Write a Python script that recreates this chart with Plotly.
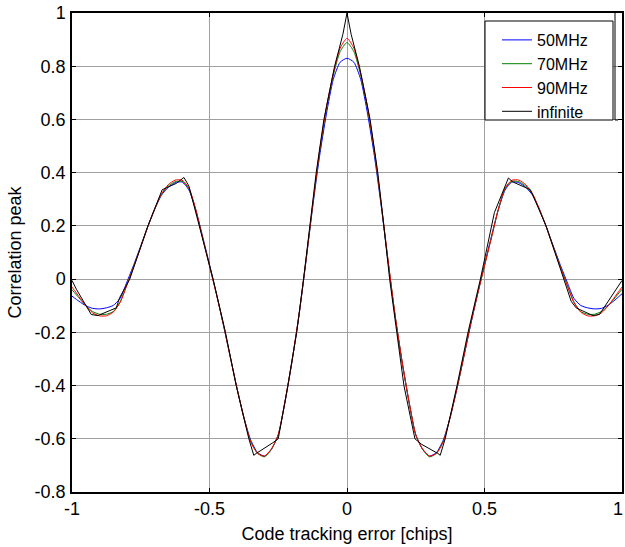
import plotly.graph_objects as go

# ---------------- data ----------------
x_band = [-1.0, -0.975, -0.95, -0.925, -0.9, -0.875, -0.85, -0.825, -0.8, -0.775,
          -0.75, -0.725, -0.7, -0.675, -0.65, -0.625, -0.6, -0.575, -0.55, -0.525,
          -0.5, -0.475, -0.45, -0.425, -0.4, -0.375, -0.35, -0.325, -0.3, -0.275,
          -0.25, -0.225, -0.2, -0.175, -0.15, -0.125, -0.1, -0.075, -0.05, -0.025,
          0.0, 0.025, 0.05, 0.075, 0.1, 0.125, 0.15, 0.175, 0.2, 0.225,
          0.25, 0.275, 0.3, 0.325, 0.35, 0.375, 0.4, 0.425, 0.45, 0.475,
          0.5, 0.525, 0.55, 0.575, 0.6, 0.625, 0.65, 0.675, 0.7, 0.725,
          0.75, 0.775, 0.8, 0.825, 0.85, 0.875, 0.9, 0.925, 0.95, 0.975, 1.0]

y_50mhz = [-0.064, -0.083, -0.100, -0.110, -0.112, -0.108, -0.099, -0.072, -0.010, 0.055,
           0.125, 0.195, 0.260, 0.315, 0.345, 0.362, 0.365, 0.335, 0.260, 0.160,
           0.055, -0.055, -0.170, -0.290, -0.410, -0.520, -0.605, -0.652, -0.665, -0.640,
           -0.585, -0.460, -0.310, -0.140, 0.060, 0.270, 0.460, 0.620, 0.750, 0.815,
           0.830, 0.815, 0.750, 0.620, 0.460, 0.270, 0.060, -0.140, -0.310, -0.460,
           -0.585, -0.640, -0.665, -0.652, -0.605, -0.520, -0.410, -0.290, -0.170, -0.055,
           0.055, 0.160, 0.260, 0.335, 0.365, 0.362, 0.345, 0.315, 0.260, 0.195,
           0.125, 0.055, -0.010, -0.072, -0.099, -0.108, -0.112, -0.110, -0.098, -0.078, -0.055]

y_70mhz = [-0.040, -0.070, -0.100, -0.122, -0.132, -0.132, -0.122, -0.085, -0.020, 0.050,
           0.122, 0.196, 0.262, 0.318, 0.350, 0.366, 0.368, 0.340, 0.260, 0.155,
           0.050, -0.055, -0.167, -0.290, -0.410, -0.520, -0.610, -0.655, -0.668, -0.640,
           -0.585, -0.458, -0.308, -0.138, 0.063, 0.275, 0.475, 0.640, 0.765, 0.855,
           0.889, 0.855, 0.765, 0.640, 0.475, 0.275, 0.063, -0.138, -0.308, -0.458,
           -0.585, -0.640, -0.668, -0.655, -0.610, -0.520, -0.410, -0.290, -0.167, -0.055,
           0.050, 0.155, 0.260, 0.340, 0.368, 0.366, 0.350, 0.318, 0.262, 0.196,
           0.122, 0.050, -0.020, -0.085, -0.122, -0.132, -0.132, -0.122, -0.100, -0.070, -0.038]

y_90mhz = [-0.030, -0.065, -0.100, -0.127, -0.138, -0.138, -0.124, -0.088, -0.022, 0.048,
           0.120, 0.195, 0.262, 0.320, 0.355, 0.372, 0.372, 0.343, 0.262, 0.155,
           0.050, -0.056, -0.167, -0.290, -0.410, -0.520, -0.612, -0.655, -0.665, -0.638,
           -0.585, -0.457, -0.307, -0.137, 0.065, 0.278, 0.480, 0.645, 0.772, 0.868,
           0.905, 0.868, 0.772, 0.645, 0.480, 0.278, 0.065, -0.137, -0.307, -0.457,
           -0.585, -0.638, -0.665, -0.655, -0.612, -0.520, -0.410, -0.290, -0.167, -0.056,
           0.050, 0.155, 0.262, 0.343, 0.372, 0.372, 0.355, 0.320, 0.262, 0.195,
           0.120, 0.048, -0.022, -0.088, -0.124, -0.138, -0.138, -0.127, -0.100, -0.065, -0.030]

x_inf = [-1.0, -0.983, -0.930, -0.906, -0.839, -0.827, -0.790, -0.724, -0.672, -0.620,
         -0.593, -0.575, -0.487, -0.442, -0.403, -0.357, -0.339, -0.330, -0.270, -0.250,
         -0.215, -0.183, -0.158, -0.134, -0.112, -0.084, -0.045, -0.015, 0.0,
         0.015, 0.045, 0.084, 0.112, 0.134, 0.155, 0.181, 0.207, 0.247, 0.270,
         0.330, 0.339, 0.357, 0.400, 0.440, 0.485, 0.536, 0.587, 0.603, 0.667,
         0.724, 0.788, 0.815, 0.833, 0.894, 0.918, 0.985, 1.0]
y_inf = [-0.005, -0.040, -0.133, -0.137, -0.108, -0.070, 0.000, 0.200, 0.336, 0.360,
         0.382, 0.350, 0.000, -0.200, -0.400, -0.600, -0.662, -0.655, -0.615, -0.600,
         -0.400, -0.200, 0.000, 0.200, 0.400, 0.600, 0.800, 0.920, 1.000,
         0.920, 0.800, 0.600, 0.400, 0.200, 0.000, -0.200, -0.400, -0.600, -0.620,
         -0.655, -0.662, -0.600, -0.400, -0.200, 0.000, 0.250, 0.380, 0.365, 0.336,
         0.200, 0.000, -0.083, -0.108, -0.137, -0.133, -0.030, -0.005]

series_names = ["50MHz", "70MHz", "90MHz", "infinite"]
series_colors = ["#0000ff", "#008000", "#ff0000", "#000000"]

x_ticks = [-1, -0.5, 0, 0.5, 1]
x_tick_text = ["-1", "-0.5", "0", "0.5", ""]   # last label ("1") drawn as an annotation below
x_last_label = "1"
y_ticks = [-0.8, -0.6, -0.4, -0.2, 0, 0.2, 0.4, 0.6, 0.8, 1]
y_tick_text = ["-0.8", "-0.6", "-0.4", "-0.2", "0", "0.2", "0.4", "0.6", "0.8", "1"]

# ---------------- figure ----------------
FONT = "Liberation Sans, Arial, sans-serif"
fig = go.Figure()
for ys, name, col in zip([y_50mhz, y_70mhz, y_90mhz], series_names[:3], series_colors[:3]):
    fig.add_trace(go.Scatter(x=x_band, y=ys, mode="lines", name=name,
                             line=dict(color=col, width=1, shape="spline", smoothing=0.6)))
fig.add_trace(go.Scatter(x=x_inf, y=y_inf, mode="lines", name=series_names[3],
                         line=dict(color=series_colors[3], width=1)))

axis_common = dict(showline=True, linecolor="black", linewidth=1.5, mirror="ticks",
                   ticks="inside", ticklen=4, tickcolor="black", tickwidth=1,
                   showgrid=True, gridcolor="#a0a0a0", gridwidth=1, zeroline=False,
                   tickfont=dict(family=FONT, size=18, color="black"))

fig.update_xaxes(range=[-1, 1], tickvals=x_ticks, ticktext=x_tick_text,
                 title=dict(text="Code tracking error [chips]", standoff=9,
                            font=dict(family=FONT, size=18, color="black")),
                 **axis_common)
fig.update_yaxes(range=[-0.8, 1], tickvals=y_ticks, ticktext=y_tick_text,
                 ticklabelstandoff=1,
                 title=dict(text="Correlation peak", standoff=8,
                            font=dict(family=FONT, size=18, color="black")),
                 **axis_common)

fig.update_layout(
    width=625, height=547,
    margin=dict(l=72, r=3, t=13, b=55, autoexpand=False),
    paper_bgcolor="white", plot_bgcolor="white",
    font=dict(family=FONT, size=18, color="black"),
    showlegend=True,
    legend=dict(x=(497 - 72) / 550, y=(492 - 23) / 479, xanchor="left", yanchor="top",
                bgcolor="rgba(0,0,0,0)", borderwidth=0,
                font=dict(family=FONT, size=16, color="black"),
                tracegroupgap=0, itemwidth=30),
    annotations=[
        dict(text=x_last_label, x=x_ticks[-1], xref="x", y=0, yref="paper",
             xanchor="right", yanchor="middle", xshift=3, yshift=-17, showarrow=False,
             font=dict(family=FONT, size=18, color="black")),
    ],
    shapes=[
        dict(type="rect", xref="paper", yref="paper",
             x0=(485 - 72) / 550, x1=(613 - 72) / 550,
             y0=(492 - 120) / 479, y1=(492 - 21) / 479,
             line=dict(color="black", width=1), fillcolor="white", layer="above"),
        dict(type="path", xref="paper", yref="paper",
             path="M {a},{t} L {a},{b} L {c},{b}".format(a=(615 - 72) / 550, c=(618 - 72) / 550,
                                                          t=(492 - 13) / 479, b=(492 - 120) / 479),
             line=dict(color="black", width=1)),
    ],
)

fig.write_html("out.html")
